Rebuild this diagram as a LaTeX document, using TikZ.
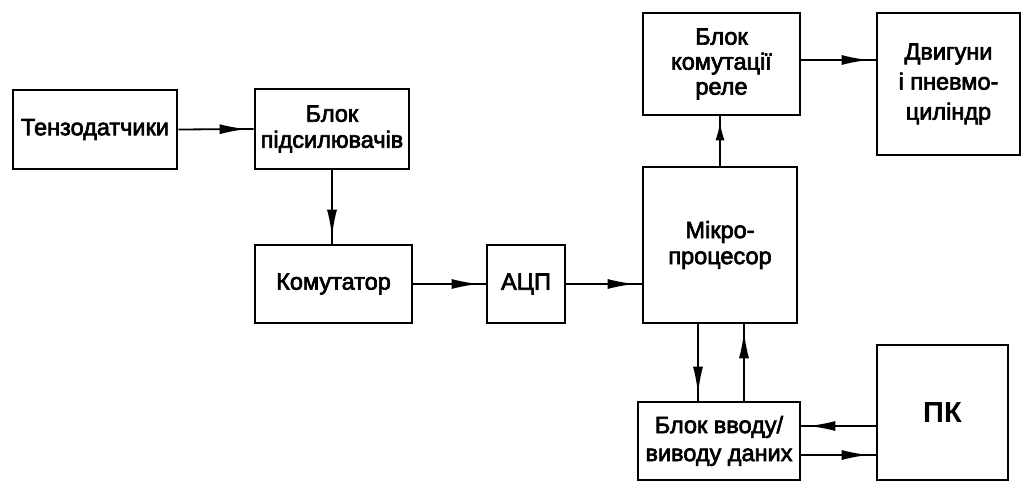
\documentclass[tikz,border=0pt]{standalone}
\usepackage{fontspec}
\setmainfont{Liberation Sans}
\newfontfamily\blkfont{Liberation Sans}[FakeBold=2.8]
\usetikzlibrary{arrows.meta,decorations.markings}
\tikzset{
  blk/.style={draw, line width=2.6pt, align=center, inner sep=0pt,
    font=\blkfont\fontsize{23.5}{26}\selectfont},
  conn/.style={line width=1.8pt,
    postaction={decorate, decoration={markings,
      mark=at position -7pt with {\arrow{Latex[length=27pt,width=10pt]}}}}},
  shortconn/.style={line width=1.8pt,
    postaction={decorate, decoration={markings,
      mark=at position -6pt with {\arrow{Latex[length=18pt,width=9pt]}}}}},
}
\begin{document}
\begin{tikzpicture}[x=1pt,y=-1pt]
\useasboundingbox (0,0) rectangle (1030,484);
\node[blk, minimum width=164pt, minimum height=79pt] (tenz) at (95,129.5) {Тензодатчики};
\node[blk, minimum width=154pt, minimum height=80pt] (amp) at (332,129) {Блок\\підсилювачів};
\node[blk, minimum width=157pt, minimum height=78pt] (kom) at (333.5,284) {Комутатор};
\node[blk, minimum width=78pt, minimum height=78pt] (adc) at (526,284) {АЦП};
\node[blk, minimum width=154pt, minimum height=156pt] (mp) at (720,245) {Мікро-\\процесор};
\node[blk, minimum width=157pt, minimum height=102pt, font=\blkfont\fontsize{23.5}{25}\selectfont] (rele) at (721.5,64) {Блок\\комутації\\реле};
\node[blk, minimum width=143pt, minimum height=142pt, font=\blkfont\fontsize{23.5}{30}\selectfont] (dv) at (948.5,84) {Двигуни\\і пневмо-\\циліндр};
\node[blk, minimum width=162pt, minimum height=78pt, font=\blkfont\fontsize{23.5}{28}\selectfont] (io) at (719,441) {Блок вводу/\\виводу даних};
\node[blk, minimum width=131pt, minimum height=135pt, font=\fontsize{29}{34}\selectfont\bfseries] (pk) at (942.5,412.5) {ПК};

\draw[conn] (tenz.east) -- (amp.west);
\draw[conn] (amp.south) -- (amp.south |- kom.north);
\draw[conn] (kom.east) -- (adc.west);
\draw[conn] (adc.east) -- (adc.east -| mp.west);
\draw[shortconn] (mp.north) -- (rele.south -| mp.north);
\draw[conn] (rele.east |- {(0,60)}) -- (dv.west |- {(0,60)});
\draw[conn] (mp.south -| {(698,0)}) -- (io.north -| {(698,0)});
\draw[conn] (io.north -| {(744,0)}) -- (mp.south -| {(744,0)});
\draw[conn] (pk.west |- {(0,426)}) -- (io.east |- {(0,426)});
\draw[conn] (io.east |- {(0,455)}) -- (pk.west |- {(0,455)});
\end{tikzpicture}
\end{document}
